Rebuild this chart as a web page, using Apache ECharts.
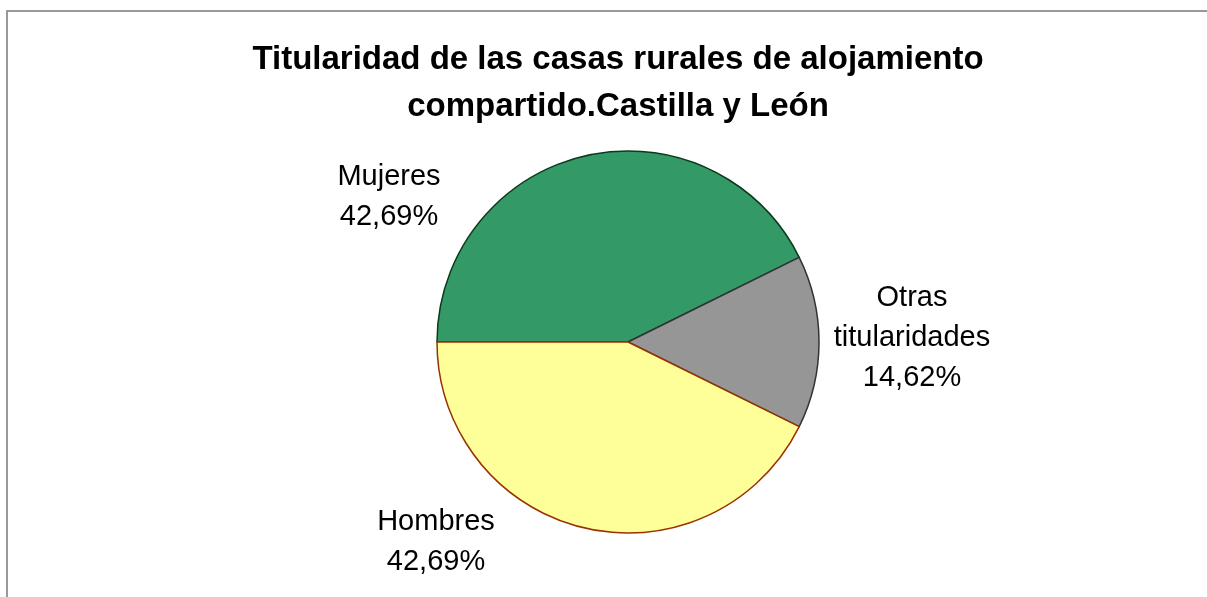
<!DOCTYPE html>
<html><head><meta charset="utf-8">
<script src="https://cdn.jsdelivr.net/npm/echarts@6/dist/echarts.min.js"></script>
<style>html,body{margin:0;padding:0;background:#fff}#c{width:1207px;height:597px}</style>
</head><body><div id="c"></div>
<script>
const categories = ['Mujeres', 'Otras\ntitularidades', 'Hombres'];
const values = [42.69, 14.62, 42.69];
const labelsText = ['42,69%', '14,62%', '42,69%'];
const colors = ['#339966', '#969696', '#FFFF99'];
const borders = ['#0b3b1c', '#333333', '#993300'];
const labelPos = [[389, 197], [912, 338], [436, 542]];

const chart = echarts.init(document.getElementById('c'));
chart.setOption({
  animation: false,
  backgroundColor: '#ffffff',
  title: {
    text: 'Titularidad de las casas rurales de alojamiento\ncompartido.Castilla y León',
    left: 613, top: 31, textAlign: 'center',
    textStyle: { fontFamily: 'Liberation Sans, Arial', fontWeight: 'bold', fontSize: 33, lineHeight: 47, color: '#000' }
  },
  graphic: [{ type: 'rect', shape: { x: 7, y: 11, width: 1400, height: 800 }, style: { fill: 'none', stroke: '#999999', lineWidth: 2 }, silent: true }],
  series: [{
    type: 'pie',
    center: [628, 342],
    radius: 191,
    startAngle: 180,
    clockwise: true,
    data: categories.map((n, i) => ({
      name: n, value: values[i],
      itemStyle: { color: colors[i], borderColor: borders[i], borderWidth: 1.5 },
      label: { formatter: n + '\n' + labelsText[i] }
    })),
    label: {
      show: true, position: 'outside',
      fontFamily: 'Liberation Sans, Arial', fontSize: 29, lineHeight: 40, color: '#000', align: 'center'
    },
    labelLine: { show: false },
    labelLayout: function (p) {
      const pos = labelPos[p.dataIndex];
      return { x: pos[0], y: pos[1], align: 'center', verticalAlign: 'middle' };
    }
  }]
});
</script></body></html>
